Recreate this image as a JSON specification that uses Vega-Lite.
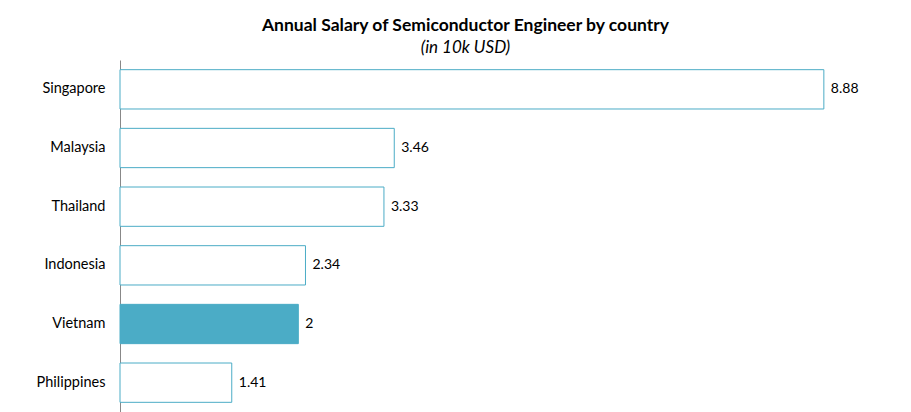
{
  "$schema": "https://vega.github.io/schema/vega-lite/v6.json",
  "autosize": {"type": "none"},
  "padding": {"left": 120, "top": 60, "right": 0, "bottom": 0},
  "width": 753,
  "height": 352,
  "background": "white",
  "config": {
    "view": {"stroke": null},
    "font": "Lato"
  },
  "title": {
    "text": "Annual Salary of Semiconductor Engineer by country",
    "subtitle": "(in 10k USD)",
    "font": "Lato",
    "fontSize": 17.5,
    "fontWeight": "bold",
    "color": "#000000",
    "subtitleFont": "Lato",
    "subtitleFontSize": 17,
    "subtitleFontStyle": "italic",
    "subtitleColor": "#000000",
    "subtitlePadding": 6,
    "anchor": "middle",
    "dx": -31,
    "offset": 4
  },
  "data": {
    "values": [
      {"country": "Singapore", "salary": 8.88, "label": "8.88", "highlight": "no"},
      {"country": "Malaysia", "salary": 3.46, "label": "3.46", "highlight": "no"},
      {"country": "Thailand", "salary": 3.33, "label": "3.33", "highlight": "no"},
      {"country": "Indonesia", "salary": 2.34, "label": "2.34", "highlight": "no"},
      {"country": "Vietnam", "salary": 2.25, "label": "2", "highlight": "yes"},
      {"country": "Philippines", "salary": 1.41, "label": "1.41", "highlight": "no"}
    ]
  },
  "encoding": {
    "y": {
      "field": "country",
      "type": "nominal",
      "sort": null,
      "title": null,
      "scale": {"paddingInner": 0.33, "paddingOuter": 0.165},
      "axis": {
        "ticks": false,
        "domainColor": "#888888",
        "labelFontSize": 14.5,
        "labelColor": "#000000",
        "labelPadding": 15,
        "labelFont": "Lato"
      }
    },
    "x": {
      "field": "salary",
      "type": "quantitative",
      "scale": {"domain": [0, 9.5]},
      "axis": null
    }
  },
  "layer": [
    {
      "mark": {"type": "bar", "stroke": "#4BACC6", "strokeWidth": 1},
      "encoding": {
        "color": {
          "field": "highlight",
          "type": "nominal",
          "scale": {"domain": ["no", "yes"], "range": ["#FFFFFF", "#4BACC6"]},
          "legend": null
        }
      }
    },
    {
      "mark": {"type": "text", "align": "left", "dx": 7, "fontSize": 14, "color": "#000000", "font": "Lato"},
      "encoding": {
        "text": {"field": "label"}
      }
    }
  ]
}
